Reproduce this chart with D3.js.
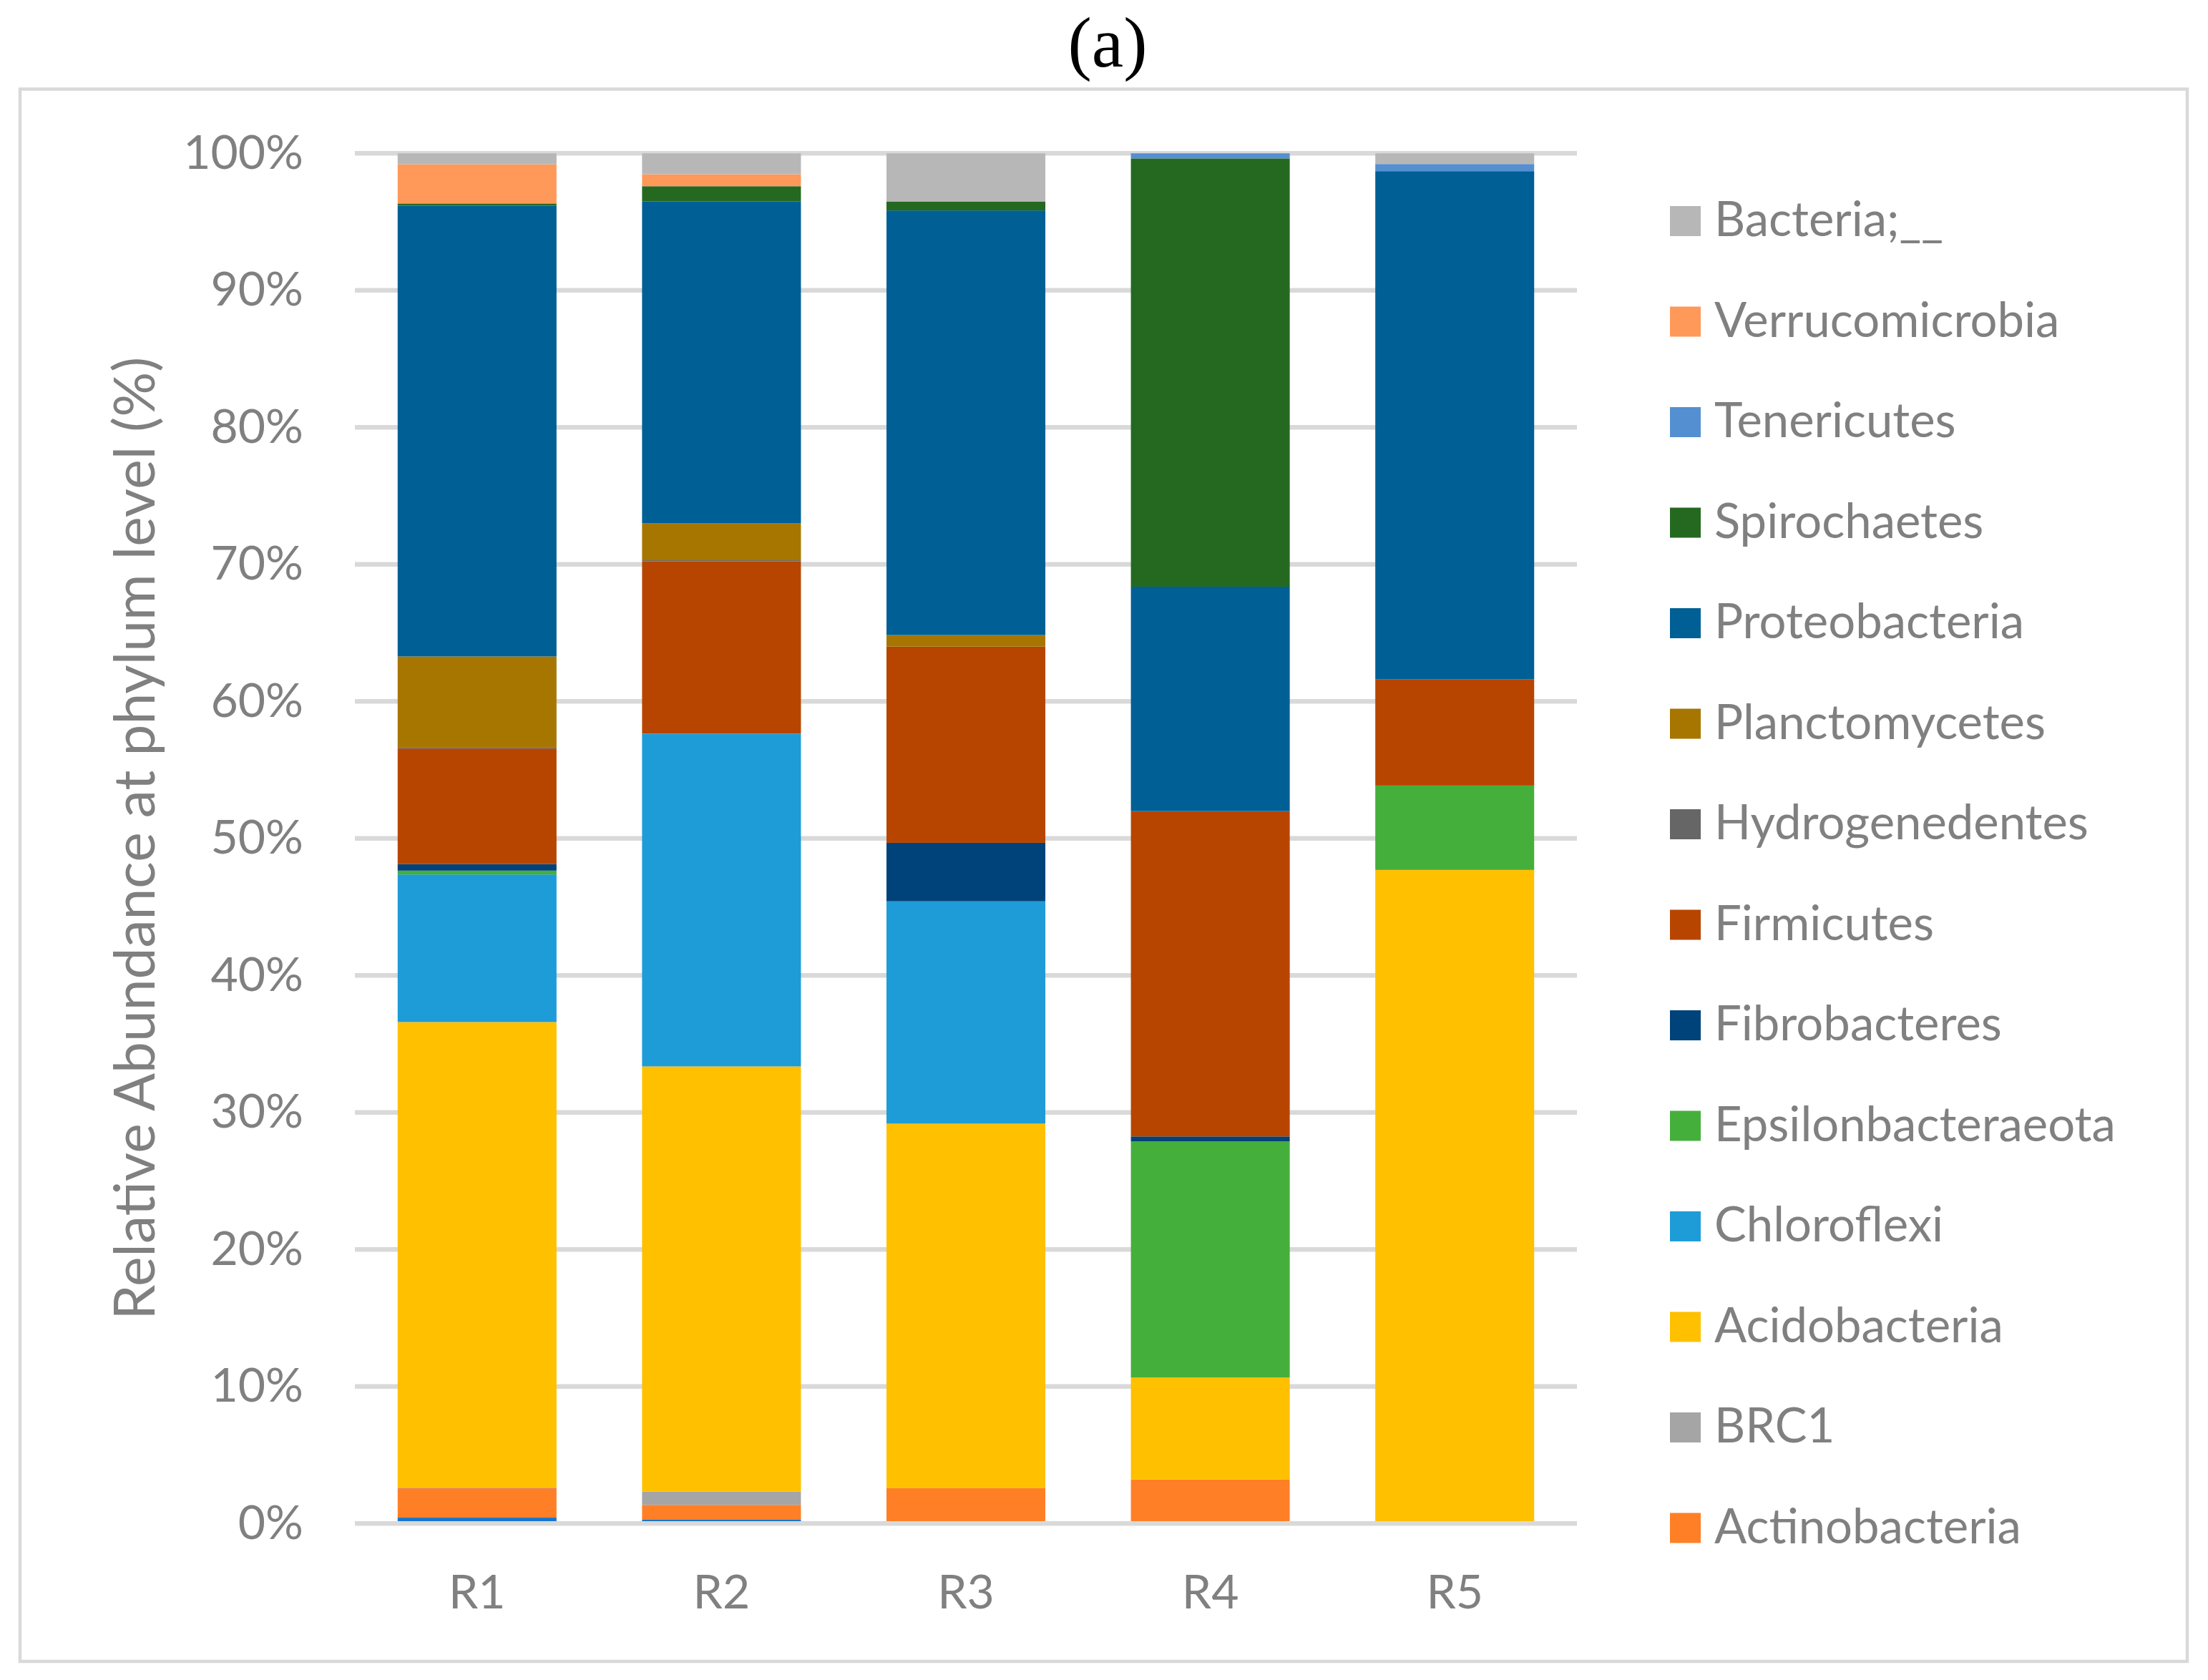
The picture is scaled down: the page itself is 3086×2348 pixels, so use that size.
<!DOCTYPE html>
<html>
<head>
<meta charset="utf-8">
<script src="https://cdn.jsdelivr.net/npm/d3@7"></script>
<style>
  html, body { margin: 0; padding: 0; background: #ffffff; }
  svg { display: block; }
</style>
</head>
<body>
<svg id="chart" width="3086" height="2348"></svg>
<script>
// ---------------- data (relative abundance, %) ----------------
const categories = ["R1", "R2", "R3", "R4", "R5"];

// stacking order, bottom -> top
const seriesNames = [
  "Unlisted",
  "Actinobacteria",
  "BRC1",
  "Acidobacteria",
  "Chloroflexi",
  "Epsilonbacteraeota",
  "Fibrobacteres",
  "Firmicutes",
  "Hydrogenedentes",
  "Planctomycetes",
  "Proteobacteria",
  "Spirochaetes",
  "Tenericutes",
  "Verrucomicrobia",
  "Bacteria;__"
];

const unlisted           = [0.43, 0.28, 0.00, 0.00, 0.00];
const actinobacteria     = [2.16, 1.08, 2.58, 3.22, 0.00];
const brc1               = [0.04, 0.97, 0.00, 0.00, 0.00];
const acidobacteria      = [33.97, 31.03, 26.60, 7.43, 47.70];
const chloroflexi        = [10.77, 24.26, 16.23, 0.00, 0.00];
const epsilonbacteraeota = [0.28, 0.02, 0.00, 17.23, 6.16];
const fibrobacteres      = [0.47, 0.00, 4.27, 0.37, 0.00];
const firmicutes         = [8.44, 12.59, 14.32, 23.74, 7.74];
const hydrogenedentes    = [0.10, 0.07, 0.00, 0.00, 0.00];
const planctomycetes     = [6.62, 2.69, 0.84, 0.00, 0.00];
const proteobacteria     = [32.89, 23.49, 30.99, 16.38, 37.10];
const spirochaetes       = [0.17, 1.12, 0.66, 31.26, 0.00];
const tenericutes        = [0.00, 0.00, 0.00, 0.37, 0.52];
const verrucomicrobia    = [2.86, 0.87, 0.00, 0.00, 0.00];
const bacteriaUnassigned = [0.80, 1.53, 3.51, 0.00, 0.78];

const yTickValues = [0, 10, 20, 30, 40, 50, 60, 70, 80, 90, 100];
const yTickLabels = ["0%", "10%", "20%", "30%", "40%", "50%", "60%", "70%", "80%", "90%", "100%"];

const titleText = "(a)";
const yTitleText = "Relative Abundance at phylum level (%)";

// legend (top -> bottom), the bottom-most series is not listed
const legendNames = [
  "Bacteria;__", "Verrucomicrobia", "Tenericutes", "Spirochaetes", "Proteobacteria",
  "Planctomycetes", "Hydrogenedentes", "Firmicutes", "Fibrobacteres", "Epsilonbacteraeota",
  "Chloroflexi", "Acidobacteria", "BRC1", "Actinobacteria"
];

// ---------------- build table ----------------
const seriesValues = [
  unlisted, actinobacteria, brc1, acidobacteria, chloroflexi, epsilonbacteraeota,
  fibrobacteres, firmicutes, hydrogenedentes, planctomycetes, proteobacteria,
  spirochaetes, tenericutes, verrucomicrobia, bacteriaUnassigned
];
const table = categories.map((c, i) => {
  const row = { category: c };
  seriesNames.forEach((s, j) => { row[s] = seriesValues[j][i]; });
  return row;
});

const colors = {
  "Unlisted": "#1874CB",
  "Actinobacteria": "#FF7F27",
  "BRC1": "#A5A5A5",
  "Acidobacteria": "#FFC000",
  "Chloroflexi": "#1E9CD8",
  "Epsilonbacteraeota": "#45AF3C",
  "Fibrobacteres": "#00427A",
  "Firmicutes": "#B74500",
  "Hydrogenedentes": "#666666",
  "Planctomycetes": "#A67600",
  "Proteobacteria": "#005F95",
  "Spirochaetes": "#256921",
  "Tenericutes": "#548FD1",
  "Verrucomicrobia": "#FF9959",
  "Bacteria;__": "#B7B7B7"
};

// ---------------- layout ----------------
const W = 3086, H = 2348;
const plot = { left: 496, right: 2204, top: 214.3, bottom: 2129.3 };
const textColor = "#808080";
const lineColor = "#D9D9D9";
const fontFamily = "Lato, 'Open Sans', sans-serif";

const svg = d3.select("#chart");
svg.append("rect").attr("x", 0).attr("y", 0).attr("width", W).attr("height", H).attr("fill", "#fff");

// chart border
svg.append("rect")
  .attr("x", 28).attr("y", 124.5)
  .attr("width", 3057 - 28).attr("height", 2322 - 124.5)
  .attr("fill", "none").attr("stroke", lineColor).attr("stroke-width", 4.5);

// title
svg.append("text")
  .attr("x", 1548).attr("y", 93)
  .attr("text-anchor", "middle")
  .attr("font-family", "'Liberation Serif', 'DejaVu Serif', serif")
  .attr("font-size", 100)
  .attr("fill", "#000")
  .text(titleText);

const x = d3.scaleBand()
  .domain(categories)
  .range([plot.left, plot.right])
  .paddingInner(0.35)
  .paddingOuter(0.175);

const y = d3.scaleLinear().domain([0, 100]).range([plot.bottom, plot.top]);

// gridlines (beneath bars)
svg.append("g")
  .selectAll("line")
  .data(yTickValues.filter(v => v !== 0))
  .join("line")
  .attr("x1", plot.left).attr("x2", plot.right)
  .attr("y1", d => y(d)).attr("y2", d => y(d))
  .attr("stroke", lineColor).attr("stroke-width", 6.5);

// stacked bars
const stack = d3.stack().keys(seriesNames);
const stacked = stack(table);

svg.append("g")
  .selectAll("g")
  .data(stacked)
  .join("g")
  .attr("fill", d => colors[d.key])
  .selectAll("rect")
  .data(d => d)
  .join("rect")
  .attr("x", d => x(d.data.category))
  .attr("width", x.bandwidth())
  .attr("y", d => y(d[1]))
  .attr("height", d => Math.max(0, y(d[0]) - y(d[1])));

// horizontal axis line (over bars)
svg.append("line")
  .attr("x1", plot.left).attr("x2", plot.right)
  .attr("y1", y(0)).attr("y2", y(0))
  .attr("stroke", lineColor).attr("stroke-width", 6.5);

// y axis labels
const yAxis = d3.axisLeft(y)
  .tickValues(yTickValues)
  .tickFormat((d, i) => yTickLabels[i])
  .tickSize(0)
  .tickPadding(72);
const yG = svg.append("g").attr("transform", `translate(${plot.left},0)`).call(yAxis);
yG.select(".domain").remove();
yG.selectAll("text")
  .attr("font-family", fontFamily)
  .attr("font-size", 66)
  .attr("fill", textColor);

// x axis labels
const xAxis = d3.axisBottom(x).tickSize(0).tickPadding(72);
const xG = svg.append("g").attr("transform", `translate(0,${y(0)})`).call(xAxis);
xG.select(".domain").remove();
xG.selectAll("text")
  .attr("font-family", fontFamily)
  .attr("font-size", 66)
  .attr("fill", textColor);

// y axis title
svg.append("text")
  .attr("transform", `translate(216,${(plot.top + plot.bottom) / 2}) rotate(-90)`)
  .attr("text-anchor", "middle")
  .attr("font-family", fontFamily)
  .attr("font-size", 78.5)
  .attr("fill", textColor)
  .text(yTitleText);

// legend
const legend = svg.append("g");
const legendItems = legend.selectAll("g")
  .data(legendNames)
  .join("g")
  .attr("transform", (d, i) => `translate(2334,${309 + i * 140.5})`);
legendItems.append("rect")
  .attr("x", 0).attr("y", -21)
  .attr("width", 43).attr("height", 42)
  .attr("fill", d => colors[d]);
legendItems.append("text")
  .attr("x", 62).attr("y", 21)
  .attr("font-family", fontFamily)
  .attr("font-size", 67)
  .attr("fill", textColor)
  .text(d => d);
</script>
</body>
</html>
